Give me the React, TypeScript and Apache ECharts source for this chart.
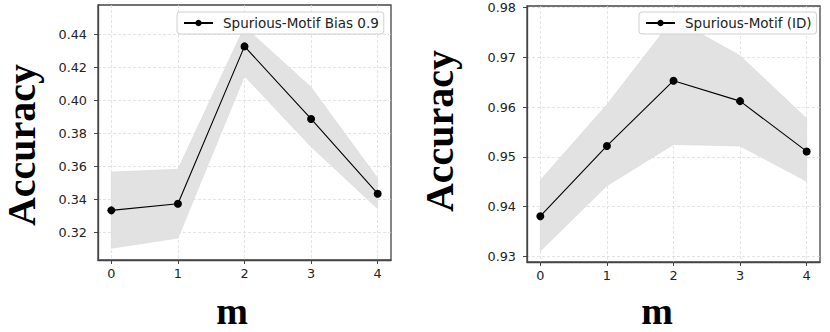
import React, { useEffect, useRef } from 'react';
import * as echarts from 'echarts';

const mValues = [0, 1, 2, 3, 4];
const biasMean = [0.3333, 0.3373, 0.4327, 0.3887, 0.3434];
const biasUpper = [0.3565, 0.3582, 0.4446, 0.4079, 0.3527];
const biasLower = [0.3103, 0.3165, 0.4147, 0.3719, 0.3343];
const idMean = [0.9381, 0.9522, 0.9653, 0.9612, 0.9511];
const idUpper = [0.9453, 0.9605, 0.9778, 0.9703, 0.9577];
const idLower = [0.9311, 0.9442, 0.9525, 0.9522, 0.9451];
const biasTicks = [0.32, 0.34, 0.36, 0.38, 0.4, 0.42, 0.44];
const idTicks = [0.93, 0.94, 0.95, 0.96, 0.97, 0.98];
const xTicks = [0, 1, 2, 3, 4];
const biasName = 'Spurious-Motif Bias 0.9';
const idName = 'Spurious-Motif (ID)';

const AXIS_COLOR = '#444';
const TICK_FONT = { fontFamily: 'DejaVu Sans', fontSize: 12.8, color: '#222' };
const SPLIT = { show: true, lineStyle: { color: '#d9d9d9', width: 0.7, type: [3, 2] as any } };

function xAxisFor(gridIndex: number) {
  return {
    type: 'value',
    gridIndex,
    min: -0.2,
    max: 4.2,
    axisLine: { show: true, onZero: false, lineStyle: { color: AXIS_COLOR, width: 1.3 } },
    axisTick: { show: true, length: 4, lineStyle: { color: AXIS_COLOR }, customValues: xTicks },
    axisLabel: { ...TICK_FONT, margin: 7, customValues: xTicks, formatter: (v: number) => String(v) },
    splitLine: SPLIT,
  };
}

function yAxisFor(gridIndex: number, min: number, max: number, ticks: number[]) {
  return {
    type: 'value',
    gridIndex,
    min,
    max,
    axisLine: { show: true, onZero: false, lineStyle: { color: AXIS_COLOR, width: 1.3 } },
    axisTick: { show: true, length: 4, lineStyle: { color: AXIS_COLOR }, customValues: ticks },
    axisLabel: { ...TICK_FONT, margin: 11, customValues: ticks, formatter: (v: number) => v.toFixed(2) },
    splitLine: SPLIT,
  };
}

function bandSeries(idx: number, upper: number[], lower: number[]) {
  return {
    type: 'custom',
    xAxisIndex: idx,
    yAxisIndex: idx,
    silent: true,
    z: 1,
    data: mValues.map((m, i) => [m, lower[i], upper[i]]),
    renderItem: (params: any, api: any) => {
      if (params.dataIndex !== 0) return null;
      const top = mValues.map((m, i) => api.coord([m, upper[i]]));
      const bot = mValues.map((m, i) => api.coord([m, lower[i]])).reverse();
      return {
        type: 'polygon',
        shape: { points: top.concat(bot) },
        style: { fill: '#e2e2e2', stroke: '#d9d9d9', lineWidth: 0.6 },
      };
    },
  };
}

function lineSeries(idx: number, name: string, mean: number[]) {
  return {
    type: 'line',
    name,
    xAxisIndex: idx,
    yAxisIndex: idx,
    z: 3,
    data: mValues.map((m, i) => [m, mean[i]]),
    symbol: 'circle',
    symbolSize: 8,
    lineStyle: { color: '#000', width: 1.1 },
    itemStyle: { color: '#000' },
  };
}

function legendFor(name: string, left: number) {
  return {
    data: [name],
    left,
    top: 12,
    padding: [4, 5, 4, 6],
    itemWidth: 29,
    itemHeight: 8,
    borderColor: '#d0d0d0',
    borderWidth: 1,
    borderRadius: 3,
    backgroundColor: 'rgba(255,255,255,0.85)',
    textStyle: { fontFamily: 'DejaVu Sans', fontSize: 13.5, color: '#222', padding: [0, 0, 0, 5] },
  };
}

export default function App() {
  const ref = useRef<HTMLDivElement>(null);
  useEffect(() => {
    if (!ref.current) return;
    const chart = echarts.init(ref.current, undefined, { renderer: 'svg' });
    const titleFont = { fontFamily: 'Liberation Serif', fontWeight: 'bold', fontSize: 40, fill: '#000' };
    const mFont = { ...titleFont, fontSize: 38 };
    chart.setOption({
      animation: false,
      backgroundColor: '#fff',
      grid: [
        { left: 98, top: 5, width: 293, height: 255, show: true, borderColor: AXIS_COLOR, borderWidth: 1.3 },
        { left: 527, top: 6, width: 293, height: 256, show: true, borderColor: AXIS_COLOR, borderWidth: 1.3 },
      ],
      xAxis: [xAxisFor(0), xAxisFor(1)],
      yAxis: [yAxisFor(0, 0.3032, 0.4578, biasTicks), yAxisFor(1, 0.9289, 0.9803, idTicks)],
      legend: [legendFor(biasName, 177), legendFor(idName, 639)],
      series: [
        bandSeries(0, biasUpper, biasLower),
        lineSeries(0, biasName, biasMean),
        bandSeries(1, idUpper, idLower),
        lineSeries(1, idName, idMean),
      ],
      graphic: [
        { type: 'text', x: 21, y: 145, rotation: Math.PI / 2, style: { ...titleFont, text: 'Accuracy', align: 'center', verticalAlign: 'middle' } },
        { type: 'text', x: 439, y: 131, rotation: Math.PI / 2, style: { ...titleFont, text: 'Accuracy', align: 'center', verticalAlign: 'middle' } },
        { type: 'text', x: 232, y: 311, style: { ...mFont, text: 'm', align: 'center', verticalAlign: 'middle' } },
        { type: 'text', x: 657, y: 311, style: { ...mFont, text: 'm', align: 'center', verticalAlign: 'middle' } },
      ],
    });
    return () => chart.dispose();
  }, []);
  return <div ref={ref} style={{ position: 'fixed', left: 0, top: 0, width: 830, height: 332 }} />;
}
